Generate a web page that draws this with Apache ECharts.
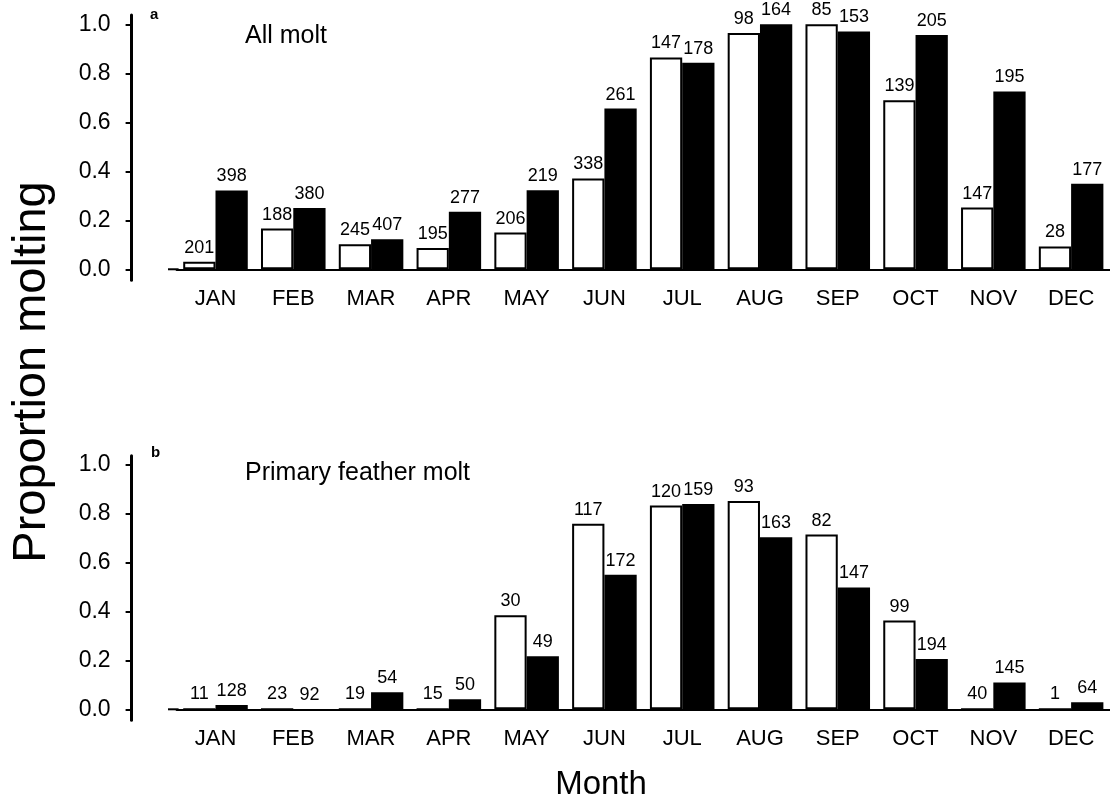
<!DOCTYPE html>
<html>
<head>
<meta charset="utf-8">
<script src="https://cdn.jsdelivr.net/npm/echarts@6/dist/echarts.min.js"></script>
<style>
html,body{margin:0;padding:0;background:#fff;}
#main{width:1110px;height:803px;}
</style>
</head>
<body>
<div id="main"></div>
<script>
// ---- data ----
var months = ['JAN','FEB','MAR','APR','MAY','JUN','JUL','AUG','SEP','OCT','NOV','DEC'];
var tickValues = [0, 0.2, 0.4, 0.6, 0.8, 1.0];

// Panel a: All molt
var allMoltOpen   = [0.031, 0.166, 0.102, 0.087, 0.150, 0.371, 0.865, 0.965, 1.000, 0.690, 0.252, 0.093];
var allMoltFilled = [0.322, 0.250, 0.123, 0.235, 0.323, 0.656, 0.843, 1.000, 0.971, 0.956, 0.726, 0.349];
var allMoltOpenN   = [201, 188, 245, 195, 206, 338, 147, 98, 85, 139, 147, 28];
var allMoltFilledN = [398, 380, 407, 277, 219, 261, 178, 164, 153, 205, 195, 177];

// Panel b: Primary feather molt
var primaryOpen   = [0, 0, 0, 0, 0.385, 0.759, 0.834, 0.853, 0.715, 0.363, 0, 0];
var primaryFilled = [0.018, 0, 0.070, 0.041, 0.217, 0.551, 0.840, 0.704, 0.499, 0.206, 0.110, 0.029];
var primaryOpenN   = [11, 23, 19, 15, 30, 117, 120, 93, 82, 99, 40, 1];
var primaryFilledN = [128, 92, 54, 50, 49, 172, 159, 163, 147, 194, 145, 64];

// ---- styling / layout ----
var FONT = "'Liberation Sans', Arial, sans-serif";
var Y_MIN = -0.045, Y_MAX = 1.038;
var GRID_LEFT = 176.6, GRID_WIDTH = 937.4;
var grids = [
  {left: GRID_LEFT, width: GRID_WIDTH, top: 15, height: 265.3},
  {left: GRID_LEFT, width: GRID_WIDTH, top: 455.7, height: 264.6}
];

function xAxisDef(i) {
  return {
    type: 'category', gridIndex: i, data: months,
    axisLine: {show: true, onZero: true, lineStyle: {color: '#000', width: 2}},
    axisTick: {show: false},
    axisLabel: {interval: 0, color: '#000', fontFamily: FONT, fontSize: 22, margin: 8}
  };
}
function yAxisDef(i) {
  return {
    type: 'value', gridIndex: i, min: Y_MIN, max: Y_MAX, offset: 45,
    splitLine: {show: false},
    axisLine: {show: true, onZero: false, lineStyle: {color: '#000', width: 3}},
    axisTick: {show: true, length: 6, customValues: tickValues, lineStyle: {color: '#000', width: 2}},
    axisLabel: {customValues: tickValues, color: '#000', fontFamily: FONT, fontSize: 23, margin: 21,
      formatter: function (v) { return v.toFixed(1); }}
  };
}
function barSeries(i, values, counts, filled) {
  return {
    type: 'bar', xAxisIndex: i, yAxisIndex: i,
    data: values,
    barGap: '0%', barCategoryGap: '17%',
    itemStyle: filled ? {color: '#000', borderColor: '#000', borderWidth: 0}
                      : {color: '#fff', borderColor: '#000', borderWidth: 2},
    label: {
      show: true, position: 'top', distance: 5,
      color: '#000', fontFamily: FONT, fontSize: 18,
      formatter: function (p) { return String(counts[p.dataIndex]); }
    },
    silent: true, animation: false
  };
}

var chart = echarts.init(document.getElementById('main'), null, {renderer: 'canvas'});
var option = {
  backgroundColor: '#fff',
  animation: false,
  grid: grids,
  xAxis: [xAxisDef(0), xAxisDef(1)],
  yAxis: [yAxisDef(0), yAxisDef(1)],
  series: [
    barSeries(0, allMoltOpen, allMoltOpenN, false),
    barSeries(0, allMoltFilled, allMoltFilledN, true),
    barSeries(1, primaryOpen, primaryOpenN, false),
    barSeries(1, primaryFilled, primaryFilledN, true)
  ]
};
chart.setOption(option);

// baseline extension to the left of the first category band + texts
var y0a = chart.convertToPixel({yAxisIndex: 0}, 0);
var y0b = chart.convertToPixel({yAxisIndex: 1}, 0);
chart.setOption({
  graphic: [
    {type: 'line', shape: {x1: 168, y1: y0a, x2: GRID_LEFT + 2, y2: y0a}, style: {stroke: '#000', lineWidth: 2}, silent: true},
    {type: 'line', shape: {x1: 168, y1: y0b, x2: GRID_LEFT + 2, y2: y0b}, style: {stroke: '#000', lineWidth: 2}, silent: true},
    {type: 'text', left: 150, top: 7, style: {text: 'a', font: 'bold 15px ' + FONT, fill: '#000'}},
    {type: 'text', left: 151, top: 445, style: {text: 'b', font: 'bold 15px ' + FONT, fill: '#000'}},
    {type: 'text', x: 245, y: 36, style: {text: 'All molt', font: '25px ' + FONT, fill: '#000', verticalAlign: 'middle'}},
    {type: 'text', x: 245, y: 473, style: {text: 'Primary feather molt', font: '25px ' + FONT, fill: '#000', verticalAlign: 'middle'}},
    {type: 'text', x: 32, y: 372, rotation: Math.PI / 2,
      style: {text: 'Proportion molting', font: '47px ' + FONT, fill: '#000', align: 'center', verticalAlign: 'middle'}},
    {type: 'text', x: 601, y: 785,
      style: {text: 'Month', font: '33px ' + FONT, fill: '#000', align: 'center', verticalAlign: 'middle'}}
  ]
});
</script>
</body>
</html>
